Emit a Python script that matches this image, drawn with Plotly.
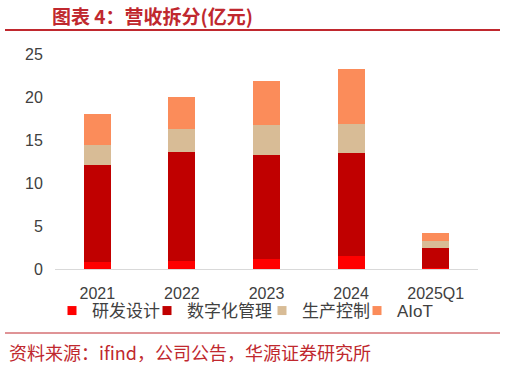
import plotly.graph_objects as go

categories = ["2021", "2022", "2023", "2024", "2025Q1"]
rd_design = [0.8, 0.9, 1.2, 1.5, 0.15]
digital_mgmt = [11.3, 12.7, 12.1, 12.0, 2.25]
production = [2.3, 2.7, 3.4, 3.4, 0.8]
aiot = [3.6, 3.7, 5.2, 6.3, 1.0]

series_names = ["研发设计", "数字化管理", "生产控制", "AIoT"]
series_values = [rd_design, digital_mgmt, production, aiot]
series_colors = ["#FF0000", "#C00000", "#D8BC96", "#FB8C5A"]
legend_ids = ["legend", "legend2", "legend3", "legend4"]

font_family = "Liberation Sans, Arial, Noto Sans CJK SC, sans-serif"

fig = go.Figure()
for name, vals, col in zip(series_names, series_values, series_colors):
    fig.add_trace(go.Bar(x=categories, y=vals, name=name, showlegend=False,
                         marker=dict(color=col, line=dict(width=0))))
# legend proxies with small square symbols
for name, col, lid in zip(series_names, series_colors, legend_ids):
    fig.add_trace(go.Scatter(x=[None], y=[None], mode="markers", name=name, legend=lid,
                             marker=dict(symbol="square", size=9, color=col), showlegend=True))

L, T, W, H = 55, 54, 423, 215
def px(x):
    return (x - L) / W
def py(y):
    return (T + H - y) / H

legend_text_starts = [92, 187, 302, 397]
legend_layouts = {}
for lid, xs in zip(legend_ids, legend_text_starts):
    legend_layouts[lid] = dict(orientation="h", x=px(xs - 40), xanchor="left", y=py(311), yanchor="middle",
                               bgcolor="rgba(0,0,0,0)", font=dict(size=17, color="#404040"), itemwidth=30)

fig.update_layout(
    width=506, height=366,
    margin=dict(l=L, r=506 - L - W, t=T, b=366 - T - H, pad=0),
    barmode="stack", bargap=0.68,
    plot_bgcolor="white", paper_bgcolor="white",
    font=dict(family=font_family, color="#404040", size=16),
    showlegend=True,
    xaxis=dict(showgrid=False, showline=True, linecolor="#D9D9D9", linewidth=1,
               ticks="outside", ticklen=10, tickcolor="rgba(0,0,0,0)",
               tickfont=dict(size=16, color="#404040")),
    yaxis=dict(range=[0, 25], dtick=5, showgrid=False, showline=False, zeroline=False,
               ticks="outside", ticklen=8, tickcolor="rgba(0,0,0,0)",
               tickfont=dict(size=16, color="#404040")),
    shapes=[
        dict(type="line", xref="paper", yref="paper", x0=px(5), x1=px(500), y0=py(30), y1=py(30),
             line=dict(color="#C0282E", width=2)),
        dict(type="line", xref="paper", yref="paper", x0=px(5), x1=px(500), y0=py(333), y1=py(333),
             line=dict(color="#C0282E", width=1)),
    ],
    annotations=[
        dict(text="<b>图表 4：营收拆分(亿元)</b>", xref="paper", yref="paper", x=px(50), y=py(15),
             xanchor="left", yanchor="middle", showarrow=False,
             font=dict(family="Noto Sans CJK SC", size=19, color="#C0282E")),
        dict(text="资料来源：ifind，公司公告，华源证券研究所", xref="paper", yref="paper", x=px(7), y=py(352),
             xanchor="left", yanchor="middle", showarrow=False,
             font=dict(family="Noto Sans CJK SC", size=18, color="#C0282E")),
    ],
    **legend_layouts,
)

fig.write_html("out.html", config={"displayModeBar": False},
               post_script="document.body.style.margin='0';document.body.style.padding='0';")
